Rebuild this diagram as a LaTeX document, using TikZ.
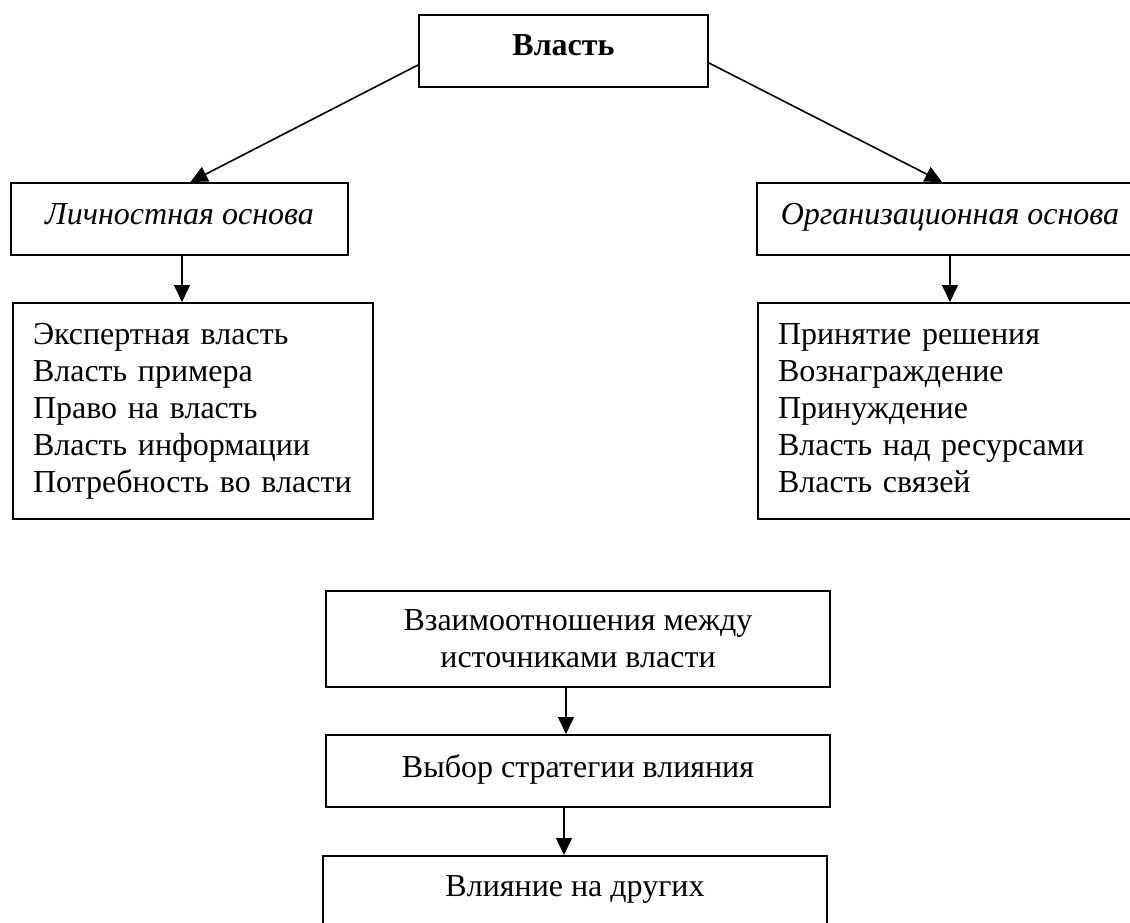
\documentclass[tikz,border=0pt]{standalone}
\usepackage{fontspec}
\setmainfont{Liberation Serif}
\usetikzlibrary{arrows.meta}

\tikzset{
    box/.style={draw, line width=2pt, rectangle, inner sep=0pt},
    txt/.style={font=\fontsize{32}{37}\selectfont},
    arr/.style={line width=1.6pt, -{Triangle[width=16pt,length=17pt]}}
}

\begin{document}
\begin{tikzpicture}[x=1pt,y=-1pt]
        \clip (0,0) rectangle (1130,923);
        \fill[white] (0,0) rectangle (1130,923);

        % Top boxes
        \node[box, anchor=north, minimum width=289pt, text height=41pt, text depth=31pt,
              font=\fontsize{32}{37}\selectfont\bfseries] (vlast) at (563.5,14) {Власть};
        \node[box, anchor=north, minimum width=337pt, text height=41pt, text depth=31pt,
              font=\fontsize{32}{37}\selectfont\itshape] (lichn) at (179.5,182) {Личностная основа};
        \node[box, anchor=north, minimum width=386pt, text height=41pt, text depth=31pt,
              font=\fontsize{32}{37}\selectfont\itshape] (org) at (950,182) {Организационная основа};

        % Lists
        \node[box, txt, anchor=north west, minimum height=216pt, inner xsep=20pt,
              text width=320pt, align=left] (lichnlist) at (12,302)
              {\strut Экспертная власть\\Власть примера\\Право на власть\\Власть информации\\Потребность во власти\strut};
        \node[box, txt, anchor=north west, minimum height=216pt, inner xsep=20pt,
              text width=360pt, align=left] (orglist) at (757,302)
              {\strut Принятие решения\\Вознаграждение\\Принуждение\\Власть над ресурсами\\Власть связей\strut};

        % Bottom chain
        \node[box, txt, anchor=north, minimum width=504pt, minimum height=96pt, align=center]
              (vzaim) at (578,590) {Взаимоотношения между\\источниками власти};
        \node[box, txt, anchor=north, minimum width=504pt, text height=42pt, text depth=30pt]
              (vybor) at (578,734) {Выбор стратегии влияния};
        \node[box, txt, anchor=north, minimum width=504pt, text height=40pt, text depth=32pt]
              (vliyanie) at (575,855) {Влияние на других};

        % Arrows
        \draw[arr] ([yshift=-14pt]vlast.west) -- ([xshift=11pt]lichn.north);
        \draw[arr] ([yshift=-12pt]vlast.east) -- ([xshift=-8pt]org.north);
        \draw[arr] ([xshift=2.5pt]lichn.south) -- ([xshift=2.5pt]lichn.south |- lichnlist.north);
        \draw[arr] (org.south) -- (org.south |- orglist.north);
        \draw[arr] ([xshift=-12pt]vzaim.south) -- ([xshift=-12pt]vzaim.south |- vybor.north);
        \draw[arr] ([xshift=-14pt]vybor.south) -- ([xshift=-14pt]vybor.south |- vliyanie.north);
    \end{tikzpicture}
\end{document}
